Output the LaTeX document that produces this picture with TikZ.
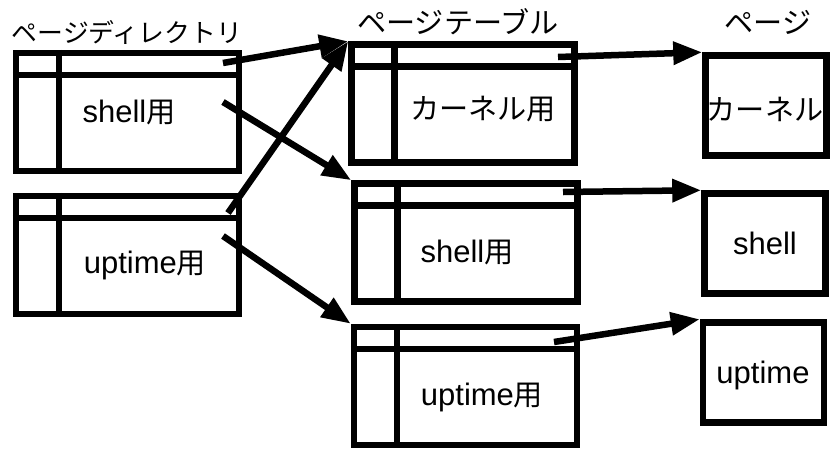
\documentclass[tikz,border=0pt]{standalone}
\usepackage{fontspec}
\setmainfont{Liberation Sans}
\newfontfamily\jp[Scale=0.94]{Noto Sans CJK JP}
\usetikzlibrary{arrows.meta,calc}

% header row and key column of a table box
\newcommand{\tblines}[1]{%
  \draw[ln] ($(#1.north west)+(0,25)$) -- ($(#1.north east)+(0,25)$);
  \draw[ln] ($(#1.north west)+(46,0)$) -- ($(#1.south west)+(46,0)$);}

\begin{document}
\begin{tikzpicture}[x=1pt,y=-1pt,
    ln/.style={black, line width=6.5pt},
    tbl/.style={draw, ln, minimum width=223pt, minimum height=118pt, inner sep=0pt},
    pg/.style={draw, ln, minimum width=121pt, minimum height=100pt, inner sep=0pt},
    lbl/.style={font=\fontsize{31}{35}\selectfont, inner sep=0pt},
    arr/.style={ln, -{Triangle[length=29pt,width=22pt]}}]
    \useasboundingbox (0,0) rectangle (835,450);

    % titles
    \node[lbl, font=\fontsize{27.5}{31}\selectfont] (ttld) at (127,32) {\jp ページディレクトリ};
    \node[lbl] (ttlt) at (458,22) {\jp ページテーブル};
    \node[lbl] (ttlp) at (768,22) {\jp ページ};

    % page directories
    \node[tbl] (d1) at (127.5,112) {};
    \node[tbl] (d2) at (127.5,255) {};
    \tblines{d1}
    \tblines{d2}
    \node[lbl] (d1l) at (129,113) {shell{\jp 用}};
    \node[lbl] (d2l) at (145,265) {uptime{\jp 用}};

    % page tables
    \node[tbl] (t1) at (463,103.5) {};
    \node[tbl] (t2) at (466,242.5) {};
    \node[tbl] (t3) at (465.5,386) {};
    \tblines{t1}
    \tblines{t2}
    \tblines{t3}
    \node[lbl] (t1l) at (483,109) {\jp カーネル用};
    \node[lbl] (t2l) at (467,253) {shell{\jp 用}};
    \node[lbl] (t3l) at (482,397) {uptime{\jp 用}};

    % pages
    \node[pg] (p1) at (766,105.5) {};
    \node[pg] (p2) at (765,243.5) {};
    \node[pg] (p3) at (763.5,372.5) {};
    \node[lbl] (p1l) at (765,109) {\jp カーネル};
    \node[lbl] (p2l) at (765,243) {shell};
    \node[lbl] (p3l) at (763,375) {uptime};

    % entries
    \coordinate (e1) at (223,63);
    \coordinate (e2) at (223,102);
    \coordinate (e3) at (228,213);
    \coordinate (e4) at (223,236);
    \coordinate (e5) at (558,57);
    \coordinate (e6) at (563,192);
    \coordinate (e7) at (554,342);

    \draw[arr] (e1) -- (t1.north west);
    \draw[arr] (e2) -- (t2.north west);
    \draw[arr] (e3) -- (t1.north west);
    \draw[arr] (e4) -- (t3.north west);
    \draw[arr] (e5) -- (p1.north west);
    \draw[arr] (e6) -- (p2.north west);
    \draw[arr] (e7) -- (p3.north west);
\end{tikzpicture}
\end{document}
